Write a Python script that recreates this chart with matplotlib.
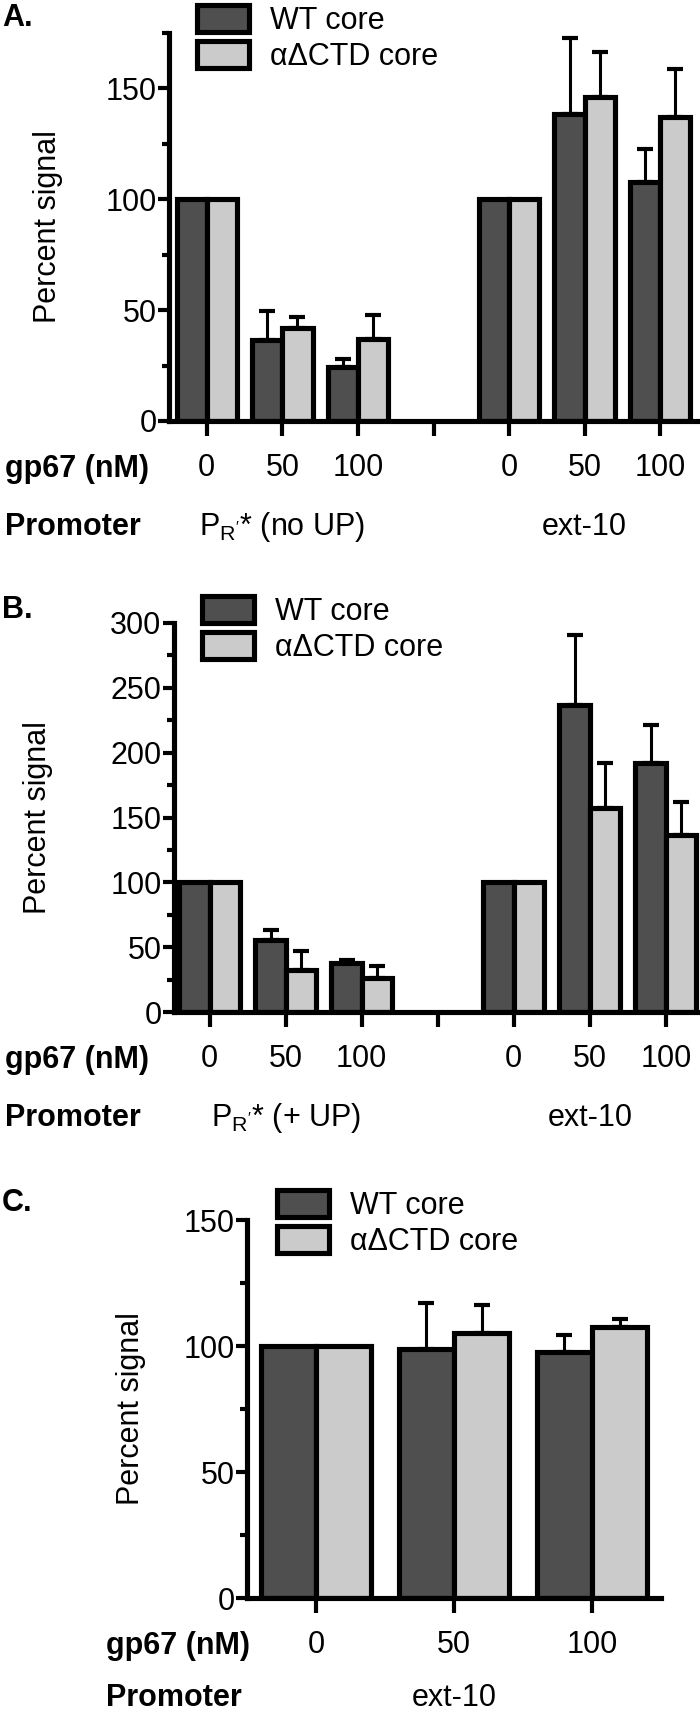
import numpy as np
import matplotlib.pyplot as plt
from matplotlib.ticker import MultipleLocator

plt.rcParams['font.family'] = ['Liberation Sans', 'DejaVu Sans']
plt.rcParams['mathtext.fontset'] = 'custom'
plt.rcParams['mathtext.rm'] = 'Liberation Sans'
plt.rcParams['font.size'] = 22

# gp67 concentrations on the x axis (blank = gap between promoters)
conc_two = ["0", "50", "100", "", "0", "50", "100"]
conc_one = ["0", "50", "100"]

# panel A (no UP)
a_wt = np.array([100, 36.5, 24.3, 100, 138.6, 108.0])
a_wt_err = np.array([0, 13.0, 3.8, 0, 34.0, 14.7])
a_dctd = np.array([100, 41.8, 36.8, 100, 146.2, 137.3])
a_dctd_err = np.array([0, 5.3, 11.1, 0, 20.2, 21.5])
a_promoters = [r"P$_{\mathregular{R'}}$* (no UP)", "ext-10"]

# panel B (+ UP)
b_wt = np.array([100, 55.6, 37.7, 100, 237.0, 192.3])
b_wt_err = np.array([0, 8.0, 2.6, 0, 53.5, 29.0])
b_dctd = np.array([100, 32.6, 26.2, 100, 157.0, 136.7])
b_dctd_err = np.array([0, 14.8, 8.9, 0, 35.3, 25.6])
b_promoters = [r"P$_{\mathregular{R'}}$* (+ UP)", "ext-10"]

# panel C (ext-10 only)
c_wt = np.array([100, 98.7, 97.8])
c_wt_err = np.array([0, 18.5, 6.6])
c_dctd = np.array([100, 105.3, 107.7])
c_dctd_err = np.array([0, 11.0, 2.9])
c_promoters = ["ext-10"]

DARK = "#4f4f4f"
LIGHT = "#cbcbcb"
W, H = 700, 1713
fig = plt.figure(figsize=(W / 100, H / 100), dpi=100)


def pt(px):
    return px * 0.72


def draw_panel(box, xlim, ymax, major, labels, wt, wt_err, dctd, dctd_err,
               promoters, letter, letter_y, legend_xy, ylabel_x, row_left, prom_off=106):
    l, r, t, b = box
    ax = fig.add_axes([l / W, 1 - b / H, (r - l) / W, (b - t) / H])
    x = np.array([i for i, s in enumerate(labels) if s != ""], dtype=float)

    b1 = ax.bar(x - 0.2, wt, 0.4, color=DARK, edgecolor="black", linewidth=3.7,
                label="WT core", zorder=2)
    b2 = ax.bar(x + 0.2, dctd, 0.4, color=LIGHT, edgecolor="black", linewidth=3.7,
                label="αΔCTD core", zorder=2)
    for xs, v, e in [(x - 0.2, wt, wt_err), (x + 0.2, dctd, dctd_err)]:
        m = e > 0
        ax.errorbar(xs[m], v[m], yerr=[np.zeros(m.sum()), e[m]], fmt="none",
                    ecolor="black", elinewidth=2.2, capsize=6, capthick=3, zorder=3)

    ax.set_xlim(*xlim)
    ax.set_ylim(0, ymax)
    ax.set_xticks(range(len(labels)))
    ax.set_xticklabels(labels)
    ax.yaxis.set_major_locator(MultipleLocator(major))
    ax.yaxis.set_minor_locator(MultipleLocator(25))
    for s in ["top", "right"]:
        ax.spines[s].set_visible(False)
    for s in ["left", "bottom"]:
        ax.spines[s].set_linewidth(3.7)
    ax.tick_params(axis="y", which="major", length=8, width=3, pad=1)
    ax.tick_params(axis="y", which="minor", length=5, width=3)
    ax.tick_params(axis="x", length=11, width=3, pad=12)
    ax.set_ylabel("Percent signal")
    ax.yaxis.set_label_coords(ylabel_x, 0.5)

    # row captions under the axis
    ax.annotate("gp67 (nM)", xy=(row_left / W, 0), xycoords=("figure fraction", "axes fraction"),
                xytext=(0, -pt(48)), textcoords="offset points", ha="left", va="center",
                fontweight="bold")
    ax.annotate("Promoter", xy=(row_left / W, 0), xycoords=("figure fraction", "axes fraction"),
                xytext=(0, -pt(prom_off)), textcoords="offset points", ha="left", va="center",
                fontweight="bold")
    centers = [1, 5] if len(promoters) == 2 else [1]
    for c, p in zip(centers, promoters):
        ax.annotate(p, xy=(c, 0), xycoords=("data", "axes fraction"),
                    xytext=(0, -pt(prom_off)), textcoords="offset points", ha="center", va="center")

    fig.text(2 / W, 1 - letter_y / H, letter, fontweight="bold", va="center", ha="left")
    fig.legend(handles=[b1, b2], loc="upper left",
               bbox_to_anchor=(legend_xy[0] / W, 1 - legend_xy[1] / H),
               frameon=False, handlelength=1.7, handleheight=1.0, handletextpad=0.7,
               labelspacing=0.15, borderpad=0, borderaxespad=0)
    return ax


draw_panel((169, 698, 33, 421), (-0.5, 6.5), 175, 50, conc_two,
           a_wt, a_wt_err, a_dctd, a_dctd_err, a_promoters,
           "A.", 18, (197, 5), -0.2, 5)
draw_panel((174, 700, 623, 1012), (-0.47, 6.45), 300, 50, conc_two,
           b_wt, b_wt_err, b_dctd, b_dctd_err, b_promoters,
           "B.", 610, (202, 596), -0.23, 5)
draw_panel((247, 661, 1220, 1598), (-0.5, 2.5), 150, 50, conc_one,
           c_wt, c_wt_err, c_dctd, c_dctd_err, c_promoters,
           "C.", 1203, (277, 1190), -0.245, 106, prom_off=100)

fig.savefig("out.png", dpi=100)
